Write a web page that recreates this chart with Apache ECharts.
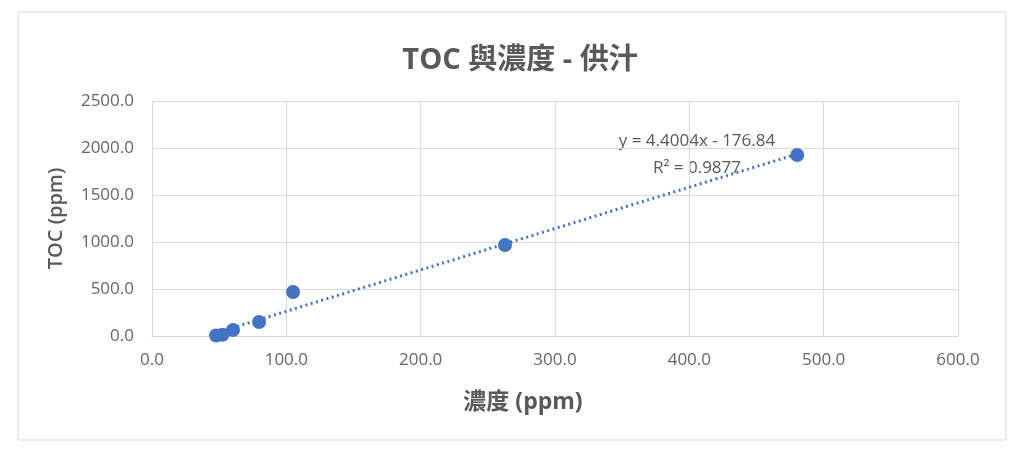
<!DOCTYPE html>
<html><head><meta charset="utf-8">
<script src="https://cdn.jsdelivr.net/npm/echarts@6/dist/echarts.min.js"></script>
<style>html,body{margin:0;padding:0;background:#fff}#c{width:1024px;height:456px}</style>
</head><body><div id="c"></div>
<script>
const xValues = [47.7, 52.5, 60.3, 79.7, 105.0, 262.8, 480.3];
const yValues = [5, 12, 64, 149, 468, 968, 1926];
const slope = 4.4004, intercept = -176.84;
const eqText = 'y = 4.4004x - 176.84';
const r2Text = 'R² = 0.9877';
const titleText = 'TOC 與濃度 - 供汁';
const xName = '濃度 (ppm)';
const yName = 'TOC (ppm)';

const pts = xValues.map((x, i) => [x, yValues[i]]);
const xmin = Math.min(...xValues), xmax = Math.max(...xValues);
const trend = [[xmin, slope * xmin + intercept], [xmax, slope * xmax + intercept]];
const font = '"Open Sans", "Noto Sans CJK TC", sans-serif';
const grey = '#595959';
const chart = echarts.init(document.getElementById('c'));
chart.setOption({
  animation: false,
  backgroundColor: '#fff',
  grid: { left: 152, right: 66, top: 101, bottom: 120 },
  xAxis: { type: 'value', min: 0, max: 600, interval: 100,
    name: xName, nameLocation: 'middle', nameGap: 55,
    nameTextStyle: { color: grey, fontSize: 23, fontWeight: 'bold', fontFamily: font, padding: [0, 64, 0, 0] },
    axisLine: { show: true, lineStyle: { color: '#d9d9d9' } }, axisTick: { show: false },
    axisLabel: { color: '#666', fontSize: 17, fontFamily: font, margin: 16, formatter: v => v.toFixed(1) },
    splitLine: { show: true, lineStyle: { color: '#d9d9d9' } } },
  yAxis: { type: 'value', min: 0, max: 2500, interval: 500,
    name: yName, nameLocation: 'middle', nameGap: 86,
    nameTextStyle: { color: grey, fontSize: 20, fontWeight: 600, fontFamily: font },
    axisLine: { show: false }, axisTick: { show: false },
    axisLabel: { color: '#666', fontSize: 17, fontFamily: font, margin: 18, formatter: v => v.toFixed(1) },
    splitLine: { show: true, lineStyle: { color: '#d9d9d9' } } },
  graphic: [
    { type: 'rect', shape: { x: 18, y: 12, width: 988, height: 428 }, style: { fill: 'none', stroke: '#d9d9d9', lineWidth: 1 }, z: -1 },
    { type: 'text', x: 520, y: 61, style: { text: titleText, fill: grey, font: 'bold 29px ' + font, textAlign: 'center', textVerticalAlign: 'middle' } },
    { type: 'text', x: 697, y: 141, style: { text: eqText, fill: grey, font: '17px ' + font, textAlign: 'center', textVerticalAlign: 'middle' } },
    { type: 'text', x: 697, y: 168, style: { text: r2Text, fill: grey, font: '17px ' + font, textAlign: 'center', textVerticalAlign: 'middle' } }
  ],
  series: [
    { type: 'line', data: trend, symbol: 'none', z: 2,
      lineStyle: { color: '#4472C4', width: 3, type: [2, 3.5] } },
    { type: 'scatter', data: pts, symbolSize: 14, z: 3,
      itemStyle: { color: '#4472C4', opacity: 1 } }
  ]
});
</script></body></html>
